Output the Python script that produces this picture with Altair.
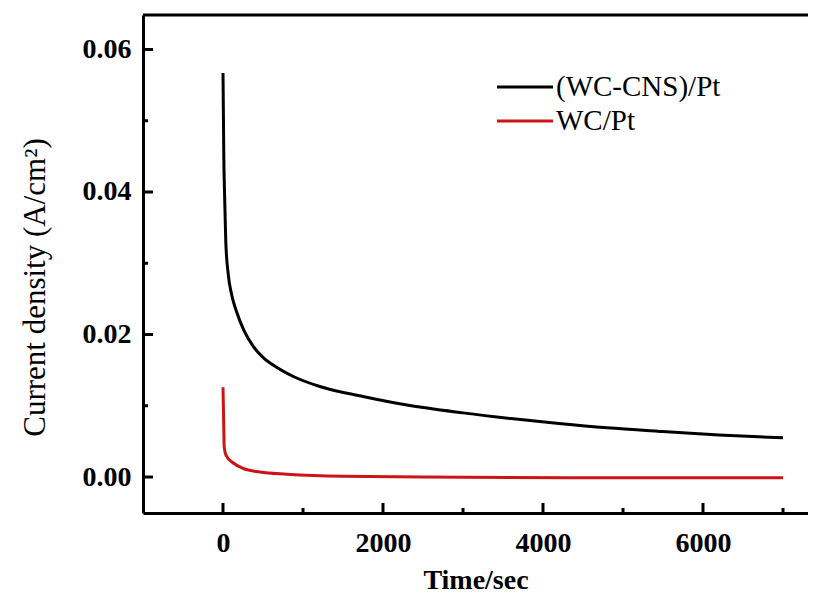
import altair as alt
import pandas as pd

# Data
t_black = [0, 10, 20, 35, 65, 110, 170, 260, 380, 500, 670, 900, 1210, 1750, 2300, 3000, 3600, 4200, 4800, 5460, 6200, 7000]
v_black = [0.0567, 0.0450, 0.0395, 0.0330, 0.0285, 0.0255, 0.0232, 0.0206, 0.0183, 0.0168, 0.0154, 0.0140, 0.0127, 0.0113, 0.0101, 0.0090, 0.0082, 0.0075, 0.0069, 0.0064, 0.0059, 0.0055]
t_red = [0, 10, 15, 40, 125, 250, 460, 800, 1500, 2500, 5000, 7000]
v_red = [0.0126, 0.0070, 0.0042, 0.0030, 0.0020, 0.0012, 0.0007, 0.0004, 0.0001, 0.0000, -0.0001, -0.0001]
series = ["(WC-CNS)/Pt", "WC/Pt"]
colors = ["#000000", "#cc1414"]
x_major = [0, 2000, 4000, 6000]
x_minor = [1000, 3000, 5000, 7000]
y_major = [0.0, 0.02, 0.04, 0.06]
y_minor = [0.01, 0.03, 0.05]

W, H = 665, 498
XDOM = [-1000, 7312.5]
YDOM = [-0.00505, 0.06484]

df = pd.concat([
    pd.DataFrame({"t": t_black, "v": v_black, "s": series[0], "o": range(len(t_black))}),
    pd.DataFrame({"t": t_red, "v": v_red, "s": series[1], "o": range(len(t_red))}),
])

SERIF = "Liberation Serif"
xs = alt.Scale(domain=XDOM, nice=False, zero=False)
ys = alt.Scale(domain=YDOM, nice=False, zero=False)

lines = alt.Chart(df).mark_line(strokeWidth=3, interpolate="monotone").encode(
    x=alt.X("t:Q", scale=xs, axis=alt.Axis(
        title="Time/sec", values=x_major, format="d", ticks=False, tickSize=0,
        labelFont=SERIF, labelFontWeight="bold", labelFontSize=28, labelColor="black",
        labelPadding=16, domainColor="black", domainWidth=3, grid=False,
        titleFont=SERIF, titleFontWeight="bold", titleFontSize=28, titleColor="black",
        titleY=67, titleBaseline="middle")),
    y=alt.Y("v:Q", scale=ys, axis=alt.Axis(
        title="Current density (A/cm²)", values=y_major, format=".2f", ticks=False, tickSize=0,
        labelFont=SERIF, labelFontWeight="bold", labelFontSize=28, labelColor="black",
        labelPadding=12, domainColor="black", domainWidth=3, grid=False,
        titleFont=SERIF, titleFontWeight="normal", titleFontSize=31, titleColor="black",
        titleAngle=-90, titleX=-108, titleY=272, titleBaseline="middle", titleAlign="center")),
    color=alt.Color("s:N", scale=alt.Scale(domain=series, range=colors), legend=None),
    order="o:Q",
    detail="s:N",
)

xmaj = alt.Chart(pd.DataFrame({"x": x_major})).mark_rule(color="black", strokeWidth=3).encode(
    x=alt.X("x:Q", scale=xs), y=alt.value(H), y2=alt.value(H - 10))
xmin = alt.Chart(pd.DataFrame({"x": x_minor})).mark_rule(color="black", strokeWidth=3).encode(
    x=alt.X("x:Q", scale=xs), y=alt.value(H), y2=alt.value(H - 5))
ymaj = alt.Chart(pd.DataFrame({"y": y_major})).mark_rule(color="black", strokeWidth=3).encode(
    y=alt.Y("y:Q", scale=ys), x=alt.value(0), x2=alt.value(10))
ymin = alt.Chart(pd.DataFrame({"y": y_minor})).mark_rule(color="black", strokeWidth=3).encode(
    y=alt.Y("y:Q", scale=ys), x=alt.value(0), x2=alt.value(5))
top = alt.Chart(pd.DataFrame({"a": [0]})).mark_rule(color="black", strokeWidth=3).encode(
    x=alt.value(0), x2=alt.value(W), y=alt.value(0))

# manual legend
leg = pd.DataFrame({"s": series, "ly": [72, 106]})
leg_lines = alt.Chart(leg).mark_rule(strokeWidth=3).encode(
    x=alt.value(354), x2=alt.value(410), y=alt.Y("ly:Q", scale=None),
    color=alt.Color("s:N", scale=alt.Scale(domain=series, range=colors), legend=None))
leg_text = alt.Chart(leg).mark_text(align="left", baseline="middle", font=SERIF, fontSize=29,
                                    color="black").encode(
    x=alt.value(413), y=alt.Y("ly:Q", scale=None), text="s:N")

chart = alt.layer(lines, xmaj, xmin, ymaj, ymin, top, leg_lines, leg_text).properties(
    width=W, height=H,
    padding={"left": 135, "top": 7, "right": 0, "bottom": 85},
    autosize=alt.AutoSizeParams(type="none"),
    background="white",
).configure_view(stroke=None)

chart.save("out.html", embed_options={"renderer": "svg", "actions": False})
